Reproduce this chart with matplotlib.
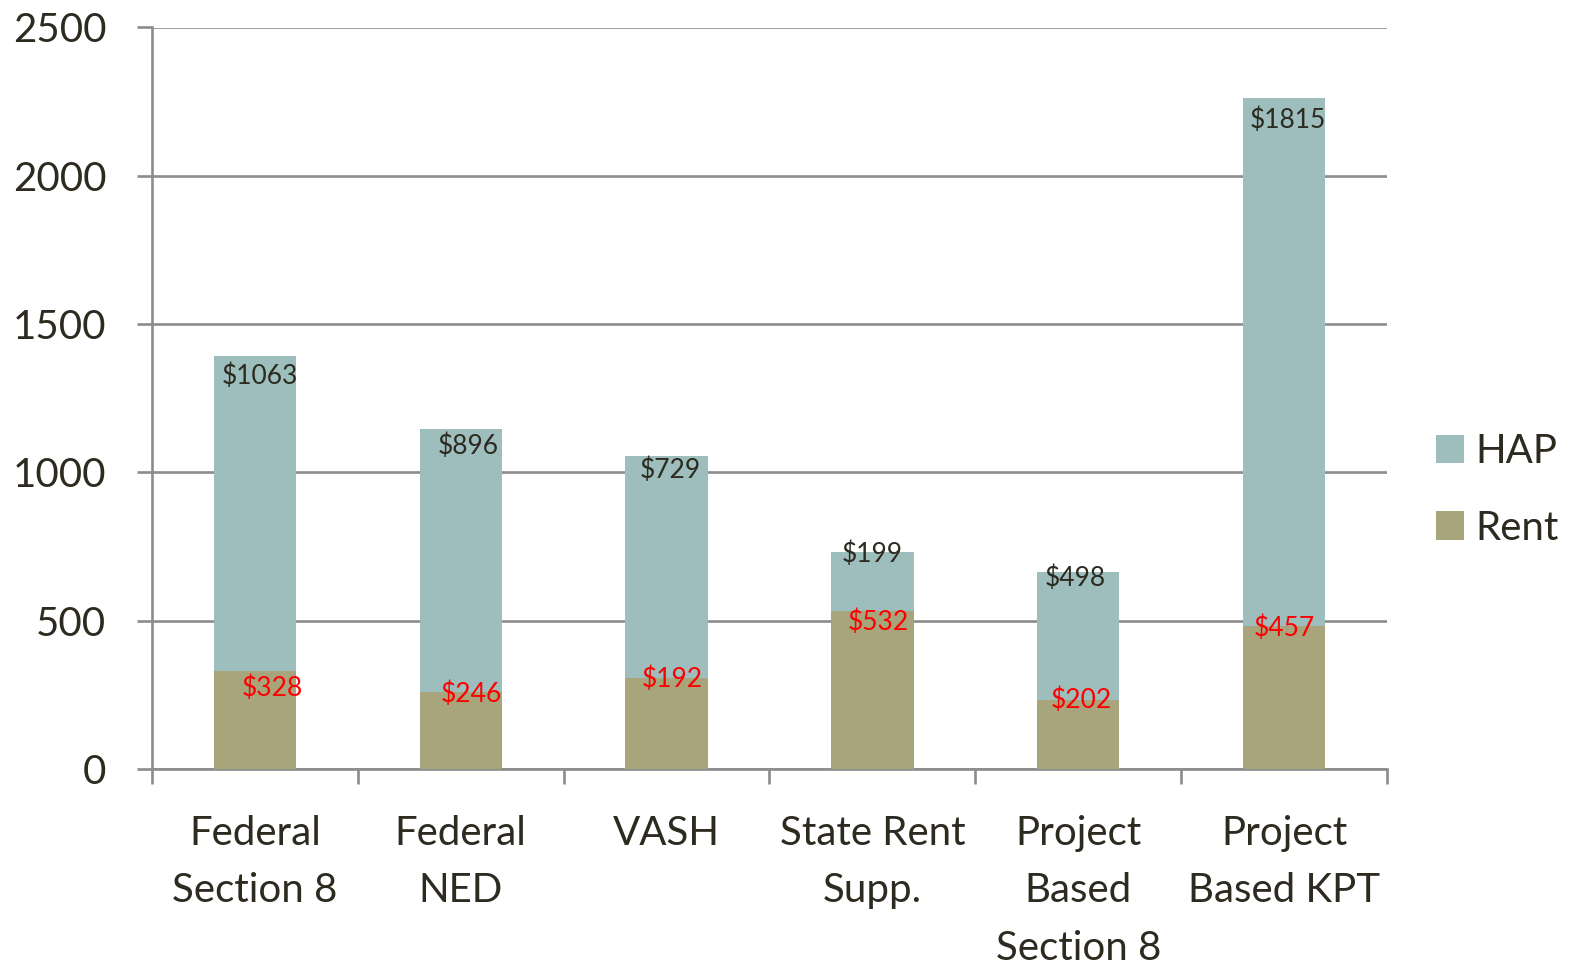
import matplotlib
matplotlib.use("Agg")
import matplotlib.pyplot as plt
from matplotlib.patches import Patch
import numpy as np

plt.rcParams['font.family'] = ['Lato', 'DejaVu Sans']

categories = ["Federal\nSection 8", "Federal\nNED", "VASH", "State Rent\nSupp.",
              "Project\nBased\nSection 8", "Project\nBased KPT"]
rent_values = [330, 260, 308, 532, 233, 481]
hap_values = [1061, 887, 747, 199, 431, 1782]
rent_labels = ["$328", "$246", "$192", "$532", "$202", "$457"]
hap_labels = ["$1063", "$896", "$729", "$199", "$498", "$1815"]
yticks = [0, 500, 1000, 1500, 2000, 2500]

# label offsets in pixels (dx, dy) relative to segment tops
hap_off = [(5, -20), (7, -17), (4, -14), (0, -2), (-3, -6), (4, -22)]
rent_off = [(17, -17), (11, -2), (6, -2), (6, -11), (3, 0), (0, -2)]

C_HAP = "#9DBEBD"
C_RENT = "#A8A47B"
C_TEXT = "#2D2A20"
C_GRID = "#8C8C8C"

fig = plt.figure(figsize=(15.77, 9.66), dpi=100)
ax = fig.add_axes([152/1577, 1-769/966, (1387-152)/1577, (769-27.5)/966])

x = np.arange(len(categories))
w = 0.4
ax.bar(x, rent_values, w, color=C_RENT, zorder=3)
ax.bar(x, hap_values, w, bottom=rent_values, color=C_HAP, zorder=3)

ax.set_xlim(-0.5, len(categories) - 0.5)
ax.set_ylim(0, 2500)
ax.set_yticks(yticks)
ax.set_yticklabels([str(v) for v in yticks])
ax.yaxis.grid(True, color=C_GRID, linewidth=1.9, zorder=0)
ax.set_axisbelow(True)

for s in ["top", "right"]:
    ax.spines[s].set_visible(False)
for s in ["left", "bottom"]:
    ax.spines[s].set_color(C_GRID)
    ax.spines[s].set_linewidth(1.9)

ax.tick_params(axis='y', length=11, width=1.9, color=C_GRID, pad=22,
               labelsize=29, labelcolor=C_TEXT)
ax.set_xticks(x)
ax.set_xticklabels(categories, fontsize=29, color=C_TEXT, linespacing=1.68)
ax.tick_params(axis='x', which='major', length=0, pad=33)
ax.set_xticks(np.arange(-0.5, len(categories)), minor=True)
ax.tick_params(axis='x', which='minor', length=11, width=1.9, color=C_GRID)

for i in range(len(categories)):
    top = rent_values[i] + hap_values[i]
    ax.annotate(hap_labels[i], (x[i], top), xytext=(hap_off[i][0]*0.72, hap_off[i][1]*0.72),
                textcoords='offset points', ha='center', va='center',
                fontsize=19, color=C_TEXT, zorder=5)
    ax.annotate(rent_labels[i], (x[i], rent_values[i]),
                xytext=(rent_off[i][0]*0.72, rent_off[i][1]*0.72),
                textcoords='offset points', ha='center', va='center',
                fontsize=19, color="#FF0000", zorder=5)

handles = [Patch(facecolor=C_HAP, edgecolor='none', label="HAP"),
           Patch(facecolor=C_RENT, edgecolor='none', label="Rent")]
leg = fig.legend(handles=handles, loc='center left', bbox_to_anchor=(1436/1577, 1-490/966),
                 frameon=False, fontsize=29, handlelength=0.7, handleheight=0.7,
                 handletextpad=0.28, labelspacing=0.97, borderpad=0, borderaxespad=0)
for t in leg.get_texts():
    t.set_color(C_TEXT)

fig.savefig("out.png", dpi=100)
